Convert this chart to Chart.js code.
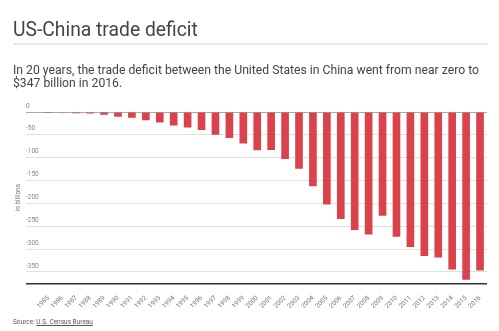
<!DOCTYPE html>
<html>
<head>
<meta charset="utf-8">
<script src="https://cdn.jsdelivr.net/npm/chart.js@4"></script>
<style>
  html, body { margin: 0; padding: 0; background: #fff; }
  body { width: 499px; height: 331px; position: relative; overflow: hidden; font-family: Roboto, "Noto Sans", sans-serif; }
  #wrap { position: absolute; left: 0; top: 0; width: 499px; height: 331px; }
  .head { position: absolute; left: 13px; top: 17.5px; font-size: 19.3px; line-height: 24px; color: #444; white-space: nowrap; }
  .rule { position: absolute; left: 13px; top: 43px; width: 475px; height: 2px; background: #e8e8e8; }
  .dek { position: absolute; left: 13px; top: 64px; font-size: 12.2px; line-height: 12.7px; color: #444; white-space: nowrap; }
  .src { position: absolute; left: 13px; top: 318px; font-size: 6.5px; line-height: 8px; color: #555; }
  .src a { color: #555; text-decoration: underline; }
</style>
</head>
<body>
<div id="wrap"><canvas id="c" width="499" height="331"></canvas></div>
<div class="head">US-China trade deficit</div>
<div class="rule"></div>
<div class="dek">In 20 years, the trade deficit between the United States in China went from near zero to<br>$347 billion in 2016.</div>
<div class="src">Source: <a>U.S. Census Bureau</a></div>
<script>
// Annual US goods trade balance with China, billions of dollars
const years = ['1985','1986','1987','1988','1989','1990','1991','1992','1993','1994','1995',
  '1996','1997','1998','1999','2000','2001','2002','2003','2004','2005','2006','2007',
  '2008','2009','2010','2011','2012','2013','2014','2015','2016'];
const balance = [-0.006, -1.7, -2.8, -3.5, -6.2, -10.4, -12.7, -18.3, -22.8, -29.5, -33.8,
  -39.5, -49.7, -56.9, -68.7, -83.8, -83.1, -103.1, -124.1, -162.3, -202.3, -234.1, -258.5,
  -268.0, -226.9, -273.1, -295.3, -315.1, -318.7, -344.8, -367.3, -347.0];
const yTicks = [0, -50, -100, -150, -200, -250, -300, -350, -375];
const yMin = -375;
const yMax = 0;

new Chart(document.getElementById('c'), {
  type: 'bar',
  data: {
    labels: years,
    datasets: [{
      data: balance,
      backgroundColor: '#da434b',
      borderWidth: 0,
      barPercentage: 0.55,
      categoryPercentage: 1
    }]
  },
  options: {
    responsive: false,
    animation: false,
    devicePixelRatio: 1,
    layout: { padding: { left: 10, right: 12, top: 112, bottom: 0 } },
    plugins: { legend: { display: false }, tooltip: { enabled: false } },
    scales: {
      x: {
        grid: { display: false },
        border: { display: false },
        ticks: {
          autoSkip: false,
          maxRotation: 45,
          minRotation: 45,
          padding: 3,
          color: '#777',
          font: { family: 'Roboto', size: 6.5 }
        },
        afterFit(scale) { scale.height = 47.7; }
      },
      y: {
        min: yMin,
        max: yMax,
        afterBuildTicks(scale) { scale.ticks = yTicks.map(v => ({ value: v })); },
        afterFit(scale) { scale.width = 31.4; },
        border: { display: false },
        grid: {
          tickLength: 15.4,
          lineWidth: ctx => (ctx.tick && ctx.tick.value === yMin ? 1.5 : 1),
          color: ctx => {
            const v = ctx.tick ? ctx.tick.value : null;
            if (v === yMin) return '#333';
            if (v === 0) return '#aaa';
            return '#e0e0e0';
          }
        },
        ticks: {
          mirror: true,
          padding: -15.4,
          labelOffset: -6,
          color: '#888',
          font: { family: 'Roboto', size: 6.5 },
          callback: v => (v === yMin ? '' : String(v))
        },
        title: {
          display: true,
          text: 'in billions',
          color: '#777',
          padding: { top: 4, bottom: 0 },
          font: { family: 'Roboto', size: 6.5 }
        }
      }
    }
  }
});
</script>
</body>
</html>
